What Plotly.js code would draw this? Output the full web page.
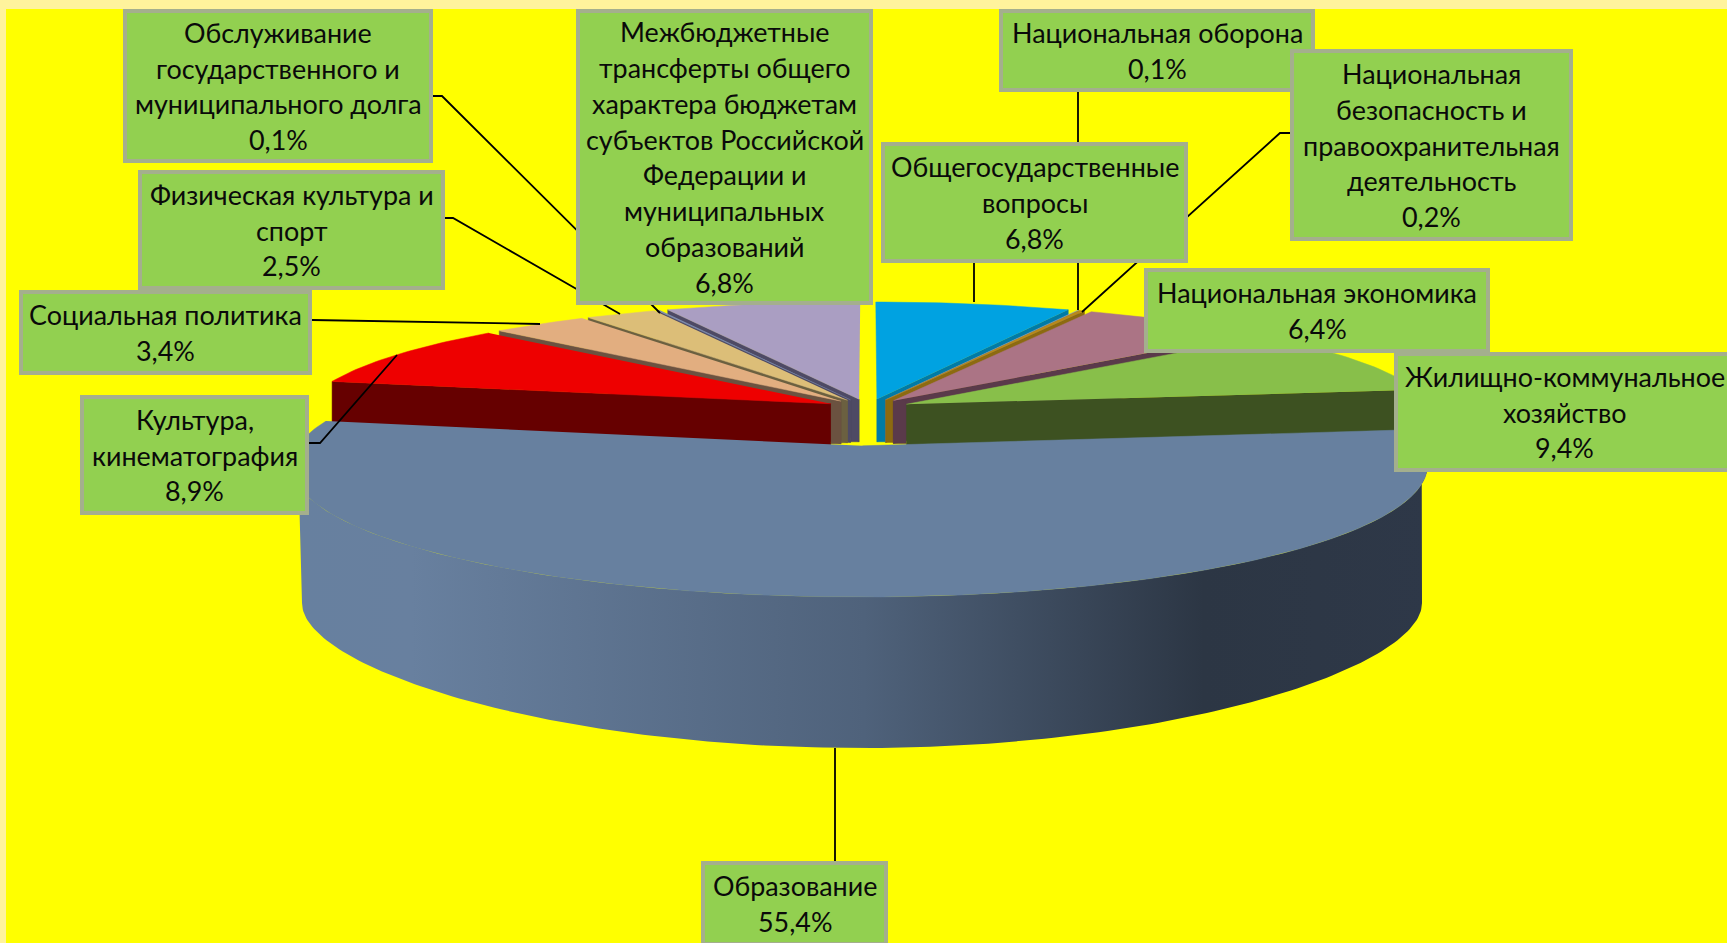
<!DOCTYPE html>
<html><head><meta charset="utf-8">
<script src="https://cdn.plot.ly/plotly-3.0.1.min.js"></script>
<style>html,body{margin:0;padding:0;overflow:hidden;background:#FFF39C}</style></head>
<body><div id="chart" style="width:1727px;height:943px"></div>
<script>
// ---- data ----
const categories = ["Общегосударственные вопросы","Национальная оборона","Национальная безопасность и правоохранительная деятельность","Национальная экономика","Жилищно-коммунальное хозяйство","Образование","Культура, кинематография","Социальная политика","Физическая культура и спорт","Обслуживание государственного и муниципального долга","Межбюджетные трансферты общего характера бюджетам субъектов Российской Федерации и муниципальных образований"];
const values = [6.8,0.1,0.2,6.4,9.4,55.4,8.9,3.4,2.5,0.1,6.8];
const valueLabels = ["6,8%","0,1%","0,2%","6,4%","9,4%","55,4%","8,9%","3,4%","2,5%","0,1%","6,8%"];
const labelLines = [
 ["Общегосударственные","вопросы"],["Национальная оборона"],
 ["Национальная","безопасность и","правоохранительная","деятельность"],["Национальная экономика"],
 ["Жилищно-коммунальное","хозяйство"],["Образование"],["Культура,","кинематография"],["Социальная политика"],
 ["Физическая культура и","спорт"],["Обслуживание","государственного и","муниципального долга"],
 ["Межбюджетные","трансферты общего","характера бюджетам","субъектов Российской","Федерации и","муниципальных","образований"]];
// ---- styles ----
const topColors  = ["#00A2E1","#8FA5C4","#B9891A","#AB7485","#88BF4A","#67809F","#EE0000","#E2AE80","#DCBE78","#7F8FB0","#AA9EC2"];
const sideColors = ["#007BA6","#5F6E85","#8C6A10","#5A3A4A","#3D5121","#67809F","#660000","#6B5240","#6B6040","#4E4A64","#4E4A64"];
const sideGradient = [[0,"#67809F"],[0.1,"#68809F"],[0.5,"#4F627B"],[0.8,"#2C3644"],[1,"#2E3848"]];
const boxFill="#92D050", boxLine="#A4AF8D", yellow="#FFFF00", frame="#FFF39C";
// ---- label boxes: [x0,y0,x1,y1] ----
const boxes = [[881,142,1188,263],[999,9,1315,92],[1290,49,1573,241],[1144,268,1490,353],[1394,352,1735,472],[701,861,888,946],[80,395,309,515],[19,290,312,375],[138,170,445,290],[123,9,433,163],[576,9,873,305]];
const leaders = [
 [[974,974],[262,302]],[[1078,1078],[92,310]],[[1290,1280,1082],[133,133,312]],
 [[835,835],[748,861]],[[309,320,397],[443,443,355]],[[312,540],[320,324]],
 [[445,453,620],[218,218,314]],[[433,442,660],[96,96,313]]];
const lineStep=35.9, fontSize=26.9;
// ---- pie projection ----
const cx=868, cy=408, A=528, B=113, K=0.139, EX=0.08, H=43;
const EDU=5, EDU_EX=0.32, EDU_WIDE_L=1.022, EDU_WIDE_R=1.012, EDU_UOFF=-0.01, EDU_BULGE=6.3;
const BX=862, BA=560, BY0=603, BY1=120, BY2=25;
const total=values.reduce((a,b)=>a+b,0);
const rad=d=>d*Math.PI/180;
function proj(u,v,h){const w=1+K*v;return [cx+A*u/w, cy-B*v/w+h/w];}
let cum=0;
const ang=values.map(v=>{const a=cum/total*360;cum+=v;return [a,cum/total*360];});
function poly(pts,color,extra){return Object.assign({type:'scatter',mode:'lines',x:pts.map(p=>p[0]),y:pts.map(p=>p[1]),fill:'toself',fillcolor:color,line:{width:0.5,color:color},hoverinfo:'skip',showlegend:false},extra||{});}
function arc(a0,a1,fn){const n=Math.max(2,Math.ceil(Math.abs(a1-a0)));const r=[];for(let i=0;i<=n;i++){r.push(fn(a0+(a1-a0)*i/n));}return r;}
const traces=[];
function apexOf(i,h){const [a0,a1]=ang[i],m=(a0+a1)/2;return proj(EX*Math.sin(rad(m)),EX*Math.cos(rad(m)),h);}
function rearSlice(i,next){
  const [a0,a1]=ang[i],mid=(a0+a1)/2;
  const du=EX*Math.sin(rad(mid)),dv=EX*Math.cos(rad(mid));
  const at=(a,h)=>proj(Math.sin(rad(a))+du,Math.cos(rad(a))+dv,h);
  const apex=h=>apexOf(i,h);
  const e=mid<180?a1:a0;
  traces.push(poly([apex(0),at(e,0),at(e,H),apex(H)],sideColors[i]));
  if(next!==undefined){const nx=apexOf(next,0)[0];const p0=apex(0),p1=apex(H);
    traces.push(poly([p0,p1,[nx,p1[1]],[nx,p0[1]]],sideColors[i]));}
  traces.push(poly([apex(0)].concat(arc(a0,a1,a=>at(a,0))),topColors[i]));
}
const rightOrder=[0,1,2,3,4], leftOrder=[10,9,8,7,6];
rightOrder.forEach((s,j)=>rearSlice(s,rightOrder[j+1]));
leftOrder.forEach((s,j)=>rearSlice(s,leftOrder[j+1]));
// education slice, pulled forward
(function(){
  const i=EDU,[a0,a1]=ang[i];
  const rimTop=a=>{const c=Math.cos(rad(a)),s=Math.sin(rad(a));const p=proj((s>0?EDU_WIDE_R:EDU_WIDE_L)*s+EDU_UOFF,c-EDU_EX,0);return [p[0],p[1]+(c<0?-c*EDU_BULGE:0)];};
  const rimBot=a=>{const t=Math.max(0,-Math.cos(rad(a)));return [BX+BA*Math.sin(rad(a)),BY0+BY1*t+BY2*t*t];};
  const top=arc(a0,a1,rimTop);
  const sideTop=arc(90,270,rimTop),bot=arc(270,90,rimBot);
  traces.push(poly(sideTop.concat(bot),"#67809F",{fillgradient:{type:'horizontal',colorscale:sideGradient,start:298,stop:1430},line:{width:0}}));
  const ap=proj(EDU_UOFF,-EDU_EX,0);
  traces.push(poly([ap].concat(top),topColors[i]));
})();
leaders.forEach(l=>traces.push({type:'scatter',mode:'lines',x:l[0],y:l[1],line:{color:'#000',width:1.8},hoverinfo:'skip',showlegend:false}));
const shapes=[{type:'rect',layer:'below',xref:'x',yref:'y',x0:6,y0:9,x1:1730,y1:946,fillcolor:yellow,line:{width:0}}];
const annotations=[];
boxes.forEach((b,i)=>{
  shapes.push({type:'rect',layer:'above',xref:'x',yref:'y',x0:b[0]+2,y0:b[1]+2,x1:b[2]-2,y1:b[3]-2,fillcolor:boxFill,line:{color:boxLine,width:4}});
  const lines=labelLines[i].concat([valueLabels[i]]);
  const mx=(b[0]+b[2])/2,my=(b[1]+b[3])/2;
  lines.forEach((t,j)=>annotations.push({xref:'x',yref:'y',x:mx,y:my+(j-(lines.length-1)/2)*lineStep,text:t,showarrow:false,xanchor:'center',yanchor:'middle',font:{family:'Lato, "Noto Sans", sans-serif',size:fontSize,color:'#0A0A0A'}}));
});
const layout={width:1727,height:943,margin:{l:0,r:0,t:0,b:0,pad:0},paper_bgcolor:frame,plot_bgcolor:frame,showlegend:false,
 xaxis:{range:[0,1727],visible:false,fixedrange:true},yaxis:{range:[943,0],visible:false,fixedrange:true},shapes,annotations};
Plotly.newPlot('chart',traces,layout,{displayModeBar:false,staticPlot:true});
</script></body></html>
